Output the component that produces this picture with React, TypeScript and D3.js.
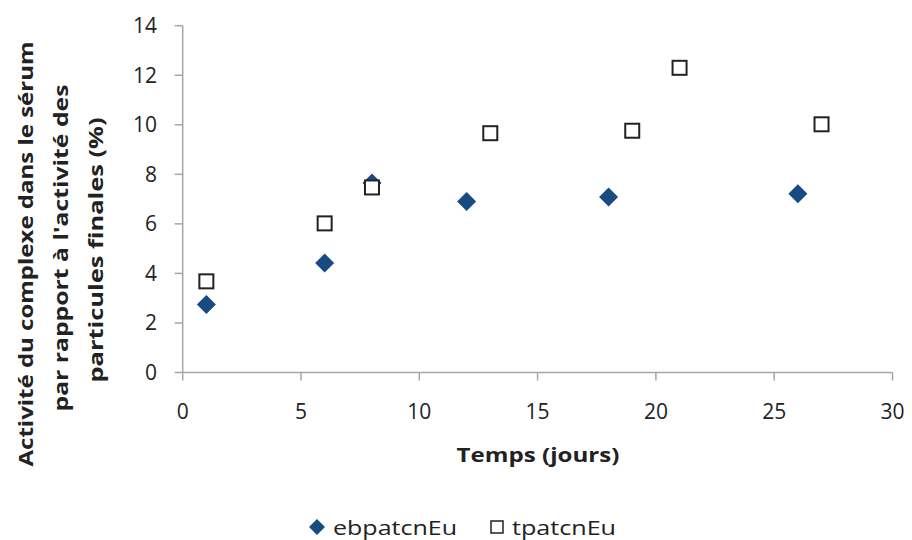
import React from "react";
import * as d3 from "d3";

const ebX = [1, 6, 8, 12, 18, 26];
const ebY = [2.75, 4.42, 7.65, 6.9, 7.08, 7.22];
const tpX = [1, 6, 8, 13, 19, 21, 27];
const tpY = [3.68, 6.02, 7.47, 9.66, 9.76, 12.3, 10.02];
const xTicks = [0, 5, 10, 15, 20, 25, 30];
const yTicks = [0, 2, 4, 6, 8, 10, 12, 14];
const seriesNames = ["ebpatcnEu", "tpatcnEu"];
const yTitleLines = [
  "Activité du complexe dans le sérum",
  "par rapport à l'activité des",
  "particules finales  (%)",
];
const xTitle = "Temps (jours)";

const W = 912, H = 540;
const font = "'Open Sans', 'Liberation Sans', sans-serif";

export default function App() {
  const x = d3.scaleLinear().domain([0, 30]).range([182.7, 892.5]);
  const y = d3.scaleLinear().domain([0, 14]).range([372.5, 25.7]);
  const axisCol = "#a6a6a6";
  const blue = "#174b82";
  const diamondPath = (cx: number, cy: number, r: number) =>
    `M${cx},${cy - r}L${cx + r},${cy}L${cx},${cy + r}L${cx - r},${cy}Z`;
  const titleX = [33, 68, 103];
  const titleC = [254, 248, 250];
  const titleL = [425, 327, 265];
  return (
    <svg width={W} height={H} style={{ position: "absolute", left: 0, top: 0 }}>
      <rect width={W} height={H} fill="white" />
      <line x1={x(0)} x2={x(0)} y1={y(14)} y2={y(0)} stroke={axisCol} strokeWidth={1.5} />
      <line x1={x(0)} x2={x(30)} y1={y(0)} y2={y(0)} stroke={axisCol} strokeWidth={1.5} />
      {yTicks.map((t) => (
        <g key={"y" + t}>
          <line x1={x(0) - 8} x2={x(0)} y1={y(t)} y2={y(t)} stroke={axisCol} strokeWidth={1.5} />
          <text x={157} y={y(t)} dy="0.35em" textAnchor="end" fontFamily={font} fontSize={21} fill="#222">
            {t}
          </text>
        </g>
      ))}
      {xTicks.map((t) => (
        <g key={"x" + t}>
          <line x1={x(t)} x2={x(t)} y1={y(0)} y2={y(0) + 8} stroke={axisCol} strokeWidth={1.5} />
          <text x={x(t)} y={412} dy="0.35em" textAnchor="middle" fontFamily={font} fontSize={21} fill="#222">
            {t}
          </text>
        </g>
      ))}
      {yTitleLines.map((l, i) => (
        <text
          key={l}
          transform={`translate(${titleX[i]},${titleC[i]}) rotate(-90)`}
          textAnchor="middle"
          fontFamily={font}
          fontWeight="bold"
          fontSize={19}
          fill="#222"
          textLength={titleL[i]}
          lengthAdjust="spacingAndGlyphs"
        >
          {l}
        </text>
      ))}
      <text x={538} y={462} textAnchor="middle" fontFamily={font} fontWeight="bold" fontSize={19} fill="#222" textLength={163} lengthAdjust="spacingAndGlyphs">
        {xTitle}
      </text>
      {ebX.map((v, i) => (
        <path key={"e" + i} d={diamondPath(x(v), y(ebY[i]), 9.5)} fill={blue} />
      ))}
      {tpX.map((v, i) => (
        <rect key={"t" + i} x={x(v) - 7} y={y(tpY[i]) - 7} width={14} height={14} fill="white" stroke="#222" strokeWidth={2} />
      ))}
      <path d={diamondPath(317, 527, 8)} fill={blue} />
      <text x={333} y={535} fontFamily={font} fontSize={20} fill="#222" textLength={124} lengthAdjust="spacingAndGlyphs">
        {seriesNames[0]}
      </text>
      <rect x={491} y={521} width={12} height={12} fill="white" stroke="#222" strokeWidth={1.5} />
      <text x={512} y={535} fontFamily={font} fontSize={20} fill="#222" textLength={104} lengthAdjust="spacingAndGlyphs">
        {seriesNames[1]}
      </text>
    </svg>
  );
}
